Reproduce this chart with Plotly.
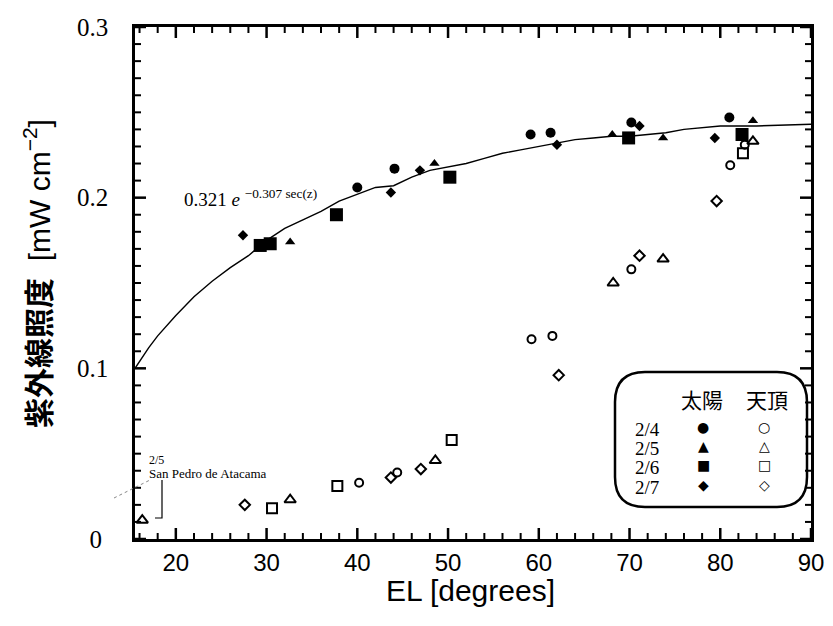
import plotly.graph_objects as go

# ---------------- data ----------------
# 太陽 (direct sun) – filled symbols
sun_0204_el = [40.0, 44.1, 59.1, 61.3, 70.2, 81.0]
sun_0204_uv = [0.206, 0.217, 0.237, 0.238, 0.244, 0.247]
sun_0205_el = [32.6, 48.5, 68.1, 73.7, 83.6]
sun_0205_uv = [0.174, 0.220, 0.237, 0.235, 0.245]
sun_0206_el = [29.3, 30.4, 37.7, 50.2, 69.9, 82.4]
sun_0206_uv = [0.172, 0.173, 0.190, 0.212, 0.235, 0.237]
sun_0207_el = [27.4, 43.7, 46.9, 62.0, 71.1, 79.4]
sun_0207_uv = [0.178, 0.203, 0.216, 0.231, 0.242, 0.235]

# 天頂 (zenith) – open symbols
zen_0204_el = [40.2, 44.4, 59.2, 61.5, 70.2, 81.1, 82.7]
zen_0204_uv = [0.033, 0.039, 0.117, 0.119, 0.158, 0.219, 0.231]
zen_0205_el = [16.3, 32.6, 48.6, 68.2, 73.7, 83.6]
zen_0205_uv = [0.011, 0.023, 0.046, 0.150, 0.164, 0.233]
zen_0206_el = [30.6, 37.8, 50.4, 82.5]
zen_0206_uv = [0.018, 0.031, 0.058, 0.226]
zen_0207_el = [27.6, 43.7, 47.0, 62.2, 71.1, 79.6]
zen_0207_uv = [0.020, 0.036, 0.041, 0.096, 0.166, 0.198]

# fitted curve 0.321 e^(-0.307 sec z)
fit_el = [15.5, 17, 18, 20, 22, 24, 26, 28, 30, 32, 34, 36, 38, 40, 42, 44, 46, 48,
          50, 52, 54, 56, 58, 60, 62, 64, 66, 68, 70, 72, 74, 76, 78, 80, 84, 90]
fit_uv = [0.100, 0.112, 0.119, 0.131, 0.142, 0.151, 0.159, 0.166, 0.175, 0.182, 0.187,
          0.192, 0.198, 0.202, 0.206, 0.207, 0.212, 0.216, 0.218, 0.220, 0.223, 0.226,
          0.228, 0.230, 0.232, 0.234, 0.235, 0.236, 0.236, 0.237, 0.238, 0.240, 0.241,
          0.242, 0.242, 0.243]

# ticks
x_major = [20, 30, 40, 50, 60, 70, 80, 90]
x_minor = [16, 18, 22, 24, 26, 28, 32, 34, 36, 38, 42, 44, 46, 48, 52, 54, 56, 58,
           62, 64, 66, 68, 72, 74, 76, 78, 82, 84, 86, 88]
y_major = [0.0, 0.1, 0.2, 0.3]
y_minor = [0.01, 0.02, 0.03, 0.04, 0.05, 0.06, 0.07, 0.08, 0.09,
           0.11, 0.12, 0.13, 0.14, 0.15, 0.16, 0.17, 0.18, 0.19,
           0.21, 0.22, 0.23, 0.24, 0.25, 0.26, 0.27, 0.28, 0.29]
x_ticktext = ["20", "30", "40", "50", "60", "70", "80", "90"]
y_ticktext = ["0\u00a0\u00a0\u00a0\u00a0", "0.1\u00a0\u00a0\u00a0",
              "0.2\u00a0\u00a0\u00a0", "0.3\u00a0\u00a0\u00a0"]

days = ["2/4", "2/5", "2/6", "2/7"]
legend_head = ["太陽", "天頂"]
sun_glyphs = ["●", "▲", "■", "◆"]
zen_glyphs = ["○", "△", "□", "◇"]

# ---------------- layout helpers ----------------
W, H = 833, 626
L, R, T, B = 135, 811, 27, 539
PW, PH = R - L, B - T
X_RANGE = [15.5, 90]
Y_RANGE = [0, 0.3]


def px(xp):
    return (xp - L) / PW


def py(yp):
    return (B - yp) / PH


fig = go.Figure()

# inward tick marks on all four sides, as line traces through the axes' scales
def tick_trace(xvals, yvals, length_px, width):
    dy = length_px / PH * (Y_RANGE[1] - Y_RANGE[0])
    dx = length_px / PW * (X_RANGE[1] - X_RANGE[0])
    xs, ys = [], []
    for v in xvals:
        xs += [v, v, None, v, v, None]
        ys += [Y_RANGE[0], Y_RANGE[0] + dy, None, Y_RANGE[1], Y_RANGE[1] - dy, None]
    for v in yvals:
        xs += [X_RANGE[0], X_RANGE[0] + dx, None, X_RANGE[1], X_RANGE[1] - dx, None]
        ys += [v, v, None, v, v, None]
    return go.Scatter(x=xs, y=ys, mode="lines", line=dict(color="black", width=width),
                      showlegend=False, hoverinfo="skip", connectgaps=False)


fig.add_trace(tick_trace(x_major, y_major, 11, 2.5))
fig.add_trace(tick_trace(x_minor, y_minor, 6, 2))

fig.add_trace(go.Scatter(x=fit_el, y=fit_uv, mode="lines",
                         line=dict(color="black", width=1.4), showlegend=False,
                         hoverinfo="skip"))

sun_sets = [(sun_0204_el, sun_0204_uv, "circle", 10),
            (sun_0205_el, sun_0205_uv, "triangle-up", 9),
            (sun_0206_el, sun_0206_uv, "square", 13),
            (sun_0207_el, sun_0207_uv, "diamond", 8)]
zen_sets = [(zen_0204_el, zen_0204_uv, "circle-open", 8),
            (zen_0205_el, zen_0205_uv, "triangle-up-open", 10),
            (zen_0206_el, zen_0206_uv, "square-open", 10),
            (zen_0207_el, zen_0207_uv, "diamond-open", 8)]

for (xs, ys, sym, sz), d in zip(zen_sets, days):
    fig.add_trace(go.Scatter(x=xs, y=ys, mode="markers", name=d + " 天頂",
                             marker=dict(symbol=sym, size=sz, color="black",
                                         line=dict(color="black", width=2)),
                             showlegend=False))
for (xs, ys, sym, sz), d in zip(sun_sets, days):
    fig.add_trace(go.Scatter(x=xs, y=ys, mode="markers", name=d + " 太陽",
                             marker=dict(symbol=sym, size=sz, color="black"),
                             showlegend=False))

fig.update_xaxes(range=X_RANGE, tickmode="array", tickvals=x_major,
                 ticktext=x_ticktext, ticks="",
                 showline=True, linecolor="black", linewidth=3, mirror=True,
                 showgrid=False, zeroline=False,
                 tickfont=dict(family="Liberation Sans, Arial", size=24, color="black"))
fig.update_yaxes(range=Y_RANGE, tickmode="array", tickvals=y_major,
                 ticktext=y_ticktext, ticks="",
                 showline=True, linecolor="black", linewidth=3, mirror=True,
                 showgrid=False, zeroline=False,
                 tickfont=dict(family="Liberation Serif, Times New Roman", size=25,
                               color="black"))

ann = []
# axis titles
ann.append(dict(x=px(470), y=py(590), xref="paper", yref="paper", showarrow=False,
                text="EL [degrees]", xanchor="center", yanchor="middle",
                font=dict(family="Liberation Sans, Arial", size=30, color="black")))
ann.append(dict(x=px(37), y=py(274), xref="paper", yref="paper", showarrow=False,
                text="<b>紫外線照度</b>\u00a0\u00a0[mW cm<sup>−2</sup>]", textangle=-90,
                xanchor="center", yanchor="middle",
                font=dict(family="Liberation Sans, Noto Sans CJK JP", size=30,
                          color="black")))
# formula label
ann.append(dict(x=px(182), y=py(198), xref="paper", yref="paper", showarrow=False,
                text="0.321 <i>e</i> <sup>−0.307 sec(z)</sup>",
                xanchor="left", yanchor="middle",
                font=dict(family="Liberation Serif, Times New Roman", size=19,
                          color="black")))
# San Pedro de Atacama note
ann.append(dict(x=px(147), y=py(460), xref="paper", yref="paper", showarrow=False,
                text="2/5", xanchor="left", yanchor="middle",
                font=dict(family="Liberation Serif, Times New Roman", size=12,
                          color="black")))
ann.append(dict(x=px(147), y=py(473), xref="paper", yref="paper", showarrow=False,
                text="San Pedro de Atacama", xanchor="left", yanchor="middle",
                font=dict(family="Liberation Serif, Times New Roman", size=13,
                          color="black")))

# legend box contents
ann.append(dict(x=px(702), y=py(399), xref="paper", yref="paper", showarrow=False,
                text=legend_head[0], xanchor="center", yanchor="middle",
                font=dict(family="Noto Sans CJK JP", size=21, color="black")))
ann.append(dict(x=px(767), y=py(399), xref="paper", yref="paper", showarrow=False,
                text=legend_head[1], xanchor="center", yanchor="middle",
                font=dict(family="Noto Sans CJK JP", size=21, color="black")))
row_y = [429, 448, 467, 487]
for d, sg, zg, yy in zip(days, sun_glyphs, zen_glyphs, row_y):
    ann.append(dict(x=px(647), y=py(yy), xref="paper", yref="paper", showarrow=False,
                    text=d, xanchor="center", yanchor="middle",
                    font=dict(family="Liberation Serif, Times New Roman", size=19,
                              color="black")))
    ann.append(dict(x=px(703), y=py(yy - 2), xref="paper", yref="paper", showarrow=False,
                    text=sg, xanchor="center", yanchor="middle",
                    font=dict(family="DejaVu Sans", size=14, color="black")))
    ann.append(dict(x=px(764), y=py(yy - 2), xref="paper", yref="paper", showarrow=False,
                    text=zg, xanchor="center", yanchor="middle",
                    font=dict(family="DejaVu Sans", size=14, color="black")))

# rounded legend frame (paper coordinates)
bl, br, bt, bb = px(615), px(807), py(372), py(507)
rx, ry = 30 / PW, 30 / PH
frame = (f"M {bl + rx},{bt} L {br - rx},{bt} Q {br},{bt} {br},{bt - ry} "
         f"L {br},{bb + ry} Q {br},{bb} {br - rx},{bb} L {bl + rx},{bb} "
         f"Q {bl},{bb} {bl},{bb + ry} L {bl},{bt - ry} Q {bl},{bt} {bl + rx},{bt} Z")

shapes = [
    dict(type="path", xref="paper", yref="paper", path=frame,
         line=dict(color="black", width=2.5)),
    dict(type="path", xref="paper", yref="paper",
         path=f"M {px(162)},{py(480)} L {px(162)},{py(518)} L {px(155)},{py(518)}",
         line=dict(color="black", width=1.2)),
    dict(type="line", xref="paper", yref="paper", x0=px(114), y0=py(498),
         x1=px(150), y1=py(480), line=dict(color="#888888", width=1, dash="dot")),
]

fig.update_layout(template="none", width=W, height=H,
                  margin=dict(l=L, r=W - R, t=T, b=H - B),
                  paper_bgcolor="white", plot_bgcolor="white", showlegend=False,
                  annotations=ann, shapes=shapes)

fig.write_html("out.html", config={"displayModeBar": False},
               post_script="document.body.style.margin='0px';")
